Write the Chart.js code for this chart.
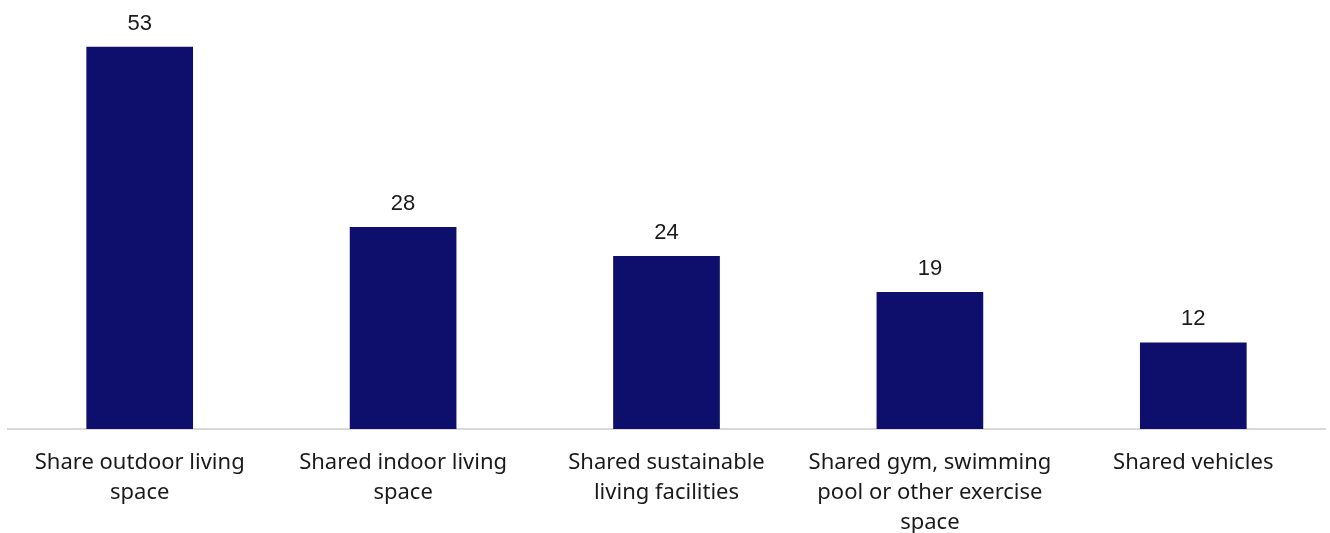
<!DOCTYPE html>
<html>
<head>
<meta charset="utf-8">
<script src="https://cdn.jsdelivr.net/npm/chart.js@4/dist/chart.umd.min.js"></script>
<style>
html,body{margin:0;padding:0;background:#fff;overflow:hidden;}
#wrap{width:1330px;height:533px;overflow:hidden;}
</style>
</head>
<body>
<div id="wrap"><canvas id="c" width="1330" height="549"></canvas></div>
<script>
const categories = [
  ["Share outdoor living", "space"],
  ["Shared indoor living", "space"],
  ["Shared sustainable", "living facilities"],
  ["Shared gym, swimming", "pool or other exercise", "space"],
  ["Shared vehicles"]
];
const values = [53, 28, 24, 19, 12];

const valueLabels = {
  id: 'valueLabels',
  afterDatasetsDraw(chart) {
    const ctx = chart.ctx;
    const meta = chart.getDatasetMeta(0);
    ctx.save();
    ctx.font = '22px "Liberation Sans", Arial, sans-serif';
    ctx.fillStyle = '#1a1a1a';
    ctx.textAlign = 'center';
    ctx.textBaseline = 'alphabetic';
    meta.data.forEach((bar, i) => {
      ctx.fillText(String(values[i]), bar.x, bar.y - 17);
    });
    ctx.restore();
  }
};

new Chart(document.getElementById('c'), {
  type: 'bar',
  data: {
    labels: categories,
    datasets: [{
      data: values,
      backgroundColor: '#0e0e6c',
      barPercentage: 0.5,
      categoryPercentage: 0.81
    }]
  },
  options: {
    responsive: false,
    animation: false,
    layout: { padding: { left: 8, right: 5, top: 0, bottom: 0 } },
    plugins: { legend: { display: false }, tooltip: { enabled: false } },
    scales: {
      y: { display: false, min: 0, max: 59.5 },
      x: {
        grid: { display: false },
        border: { display: true, color: '#d9d9d9', width: 2 },
        ticks: {
          color: '#1a1a1a',
          font: { family: '"Noto Sans", "Open Sans", sans-serif', size: 22, lineHeight: 30/22 },
          padding: 11,
          maxRotation: 0,
          autoSkip: false
        }
      }
    }
  },
  plugins: [valueLabels]
});
</script>
</body>
</html>
